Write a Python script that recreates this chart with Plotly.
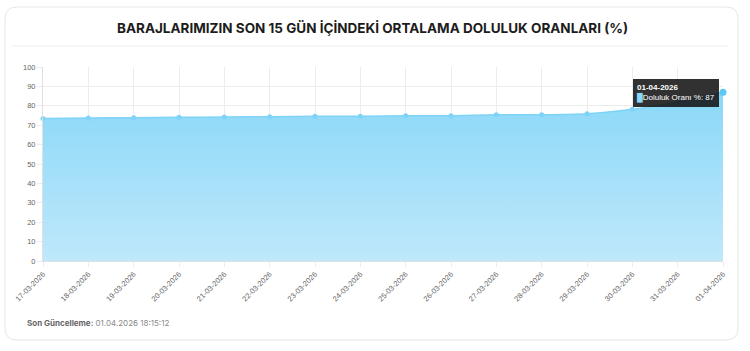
import plotly.graph_objects as go

dates = ["17-03-2026", "18-03-2026", "19-03-2026", "20-03-2026", "21-03-2026",
         "22-03-2026", "23-03-2026", "24-03-2026", "25-03-2026", "26-03-2026",
         "27-03-2026", "28-03-2026", "29-03-2026", "30-03-2026", "31-03-2026",
         "01-04-2026"]
values = [73.5, 73.7, 73.9, 74.1, 74.2, 74.4, 74.6, 74.6, 74.9, 74.9,
          75.4, 75.4, 75.9, 78.2, 82.0, 87.0]
y_ticks = [0, 10, 20, 30, 40, 50, 60, 70, 80, 90, 100]

title_text = "BARAJLARIMIZIN SON 15 GÜN İÇİNDEKİ ORTALAMA DOLULUK ORANLARI (%)"
series_name = "Doluluk Oranı %"

W, H = 750, 351
L, R, T, B = 43, 27, 67, 90
PW, PH = W - L - R, H - T - B


def px(x):
    return (x - L) / PW


def py(y):
    return (H - B - y) / PH


fig = go.Figure()
fig.add_trace(go.Scatter(
    x=dates, y=values, name=series_name, mode="lines+markers",
    line=dict(color="#7fd3f7", width=1.5, shape="spline", smoothing=0.4),
    marker=dict(color="#7fd3f7", size=5),
    fill="tozeroy",
    fillgradient=dict(type="vertical",
                      colorscale=[[0, "#bfe8fb"], [1, "#8ad8f8"]]),
    hoverinfo="skip", cliponaxis=False,
))
# highlighted (hovered) last point
fig.add_trace(go.Scatter(
    x=[dates[-1]], y=[values[-1]], mode="markers",
    marker=dict(color="#5ec8f5", size=7), hoverinfo="skip", showlegend=False,
    cliponaxis=False,
))

# card with rounded corners
x0, x1, y0, y1 = px(5), px(738), py(7), py(340)
rx, ry = 12 / PW, 12 / PH
card = (f"M {x0+rx},{y0} L {x1-rx},{y0} Q {x1},{y0} {x1},{y0-ry} "
        f"L {x1},{y1+ry} Q {x1},{y1} {x1-rx},{y1} L {x0+rx},{y1} "
        f"Q {x0},{y1} {x0},{y1+ry} L {x0},{y0-ry} Q {x0},{y0} {x0+rx},{y0} Z")
shapes = [
    dict(type="path", xref="paper", yref="paper", path=card,
         line=dict(color="#e6e6e6", width=1), fillcolor="white", layer="below"),
    dict(type="line", xref="paper", yref="paper", x0=px(12), x1=px(728),
         y0=py(46), y1=py(46), line=dict(color="#ececec", width=1)),
]

annotations = [
    dict(text=f"<b>{title_text}</b>", xref="paper", yref="paper",
         x=px(372), y=py(28), showarrow=False,
         font=dict(family="Inter", size=13.5, color="#1c1c1c"),
         xanchor="center", yanchor="middle"),
    dict(text=("<b>Son Güncelleme:</b> "
               "<span style='color:#8a8a8a'>01.04.2026 18:15:12</span>"),
         xref="paper", yref="paper", x=px(25), y=py(323), showarrow=False,
         font=dict(family="Inter", size=8, color="#666666"),
         xanchor="left", yanchor="middle"),
    dict(text=("<b>01-04-2026</b><br><span style='color:#8ad8f8'>█</span>"
               f"Doluluk Oranı %: {values[-1]:g}"),
         xref="paper", yref="paper", x=px(719), y=py(79), showarrow=False,
         xanchor="right", yanchor="top", align="left",
         bgcolor="rgba(20,20,20,0.88)", borderpad=4, borderwidth=0,
         font=dict(family="Liberation Sans", size=8, color="white")),
]

fig.update_layout(
    width=W, height=H,
    margin=dict(l=L, r=R, t=T, b=B),
    paper_bgcolor="white", plot_bgcolor="rgba(0,0,0,0)",
    showlegend=False,
    shapes=shapes, annotations=annotations,
    font=dict(family="Liberation Sans", color="#666666", size=8),
)
fig.update_xaxes(
    type="category", tickangle=-45, showgrid=True, gridcolor="#ececec",
    gridwidth=1, ticks="outside", ticklen=5, tickcolor="#ececec",
    showline=True, linecolor="#e0e0e0", linewidth=1,
    tickfont=dict(size=7.5, color="#666666"), range=[0, len(dates) - 1],
    zeroline=False,
)
fig.update_yaxes(
    range=[0, 100], tickvals=y_ticks, showgrid=True, gridcolor="#ececec",
    ticks="outside", ticklen=5, tickcolor="#ececec",
    showline=True, linecolor="#e0e0e0", linewidth=1,
    tickfont=dict(size=7.5, color="#666666"), zeroline=False,
)

fig.write_html("out.html")
